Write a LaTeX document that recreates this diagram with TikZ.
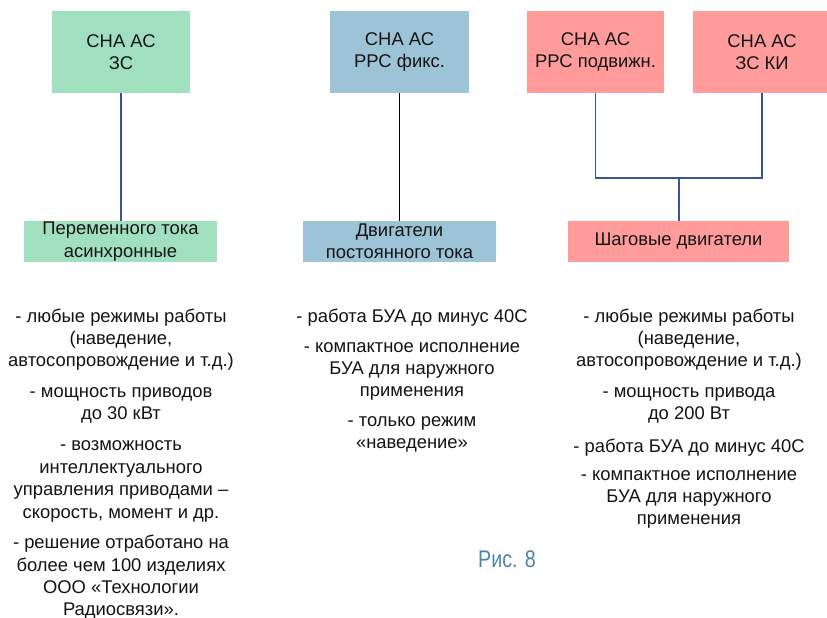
\documentclass[tikz,border=0pt]{standalone}
\usepackage{fontspec}
\setmainfont{Liberation Sans}
\usepackage{graphicx}
\definecolor{gfill}{RGB}{160,224,190}
\definecolor{bfill}{RGB}{157,195,215}
\definecolor{pfill}{RGB}{255,155,155}
\definecolor{lineblue}{RGB}{55,85,145}
\definecolor{captc}{RGB}{74,134,172}
\definecolor{txtc}{RGB}{20,20,20}
\newcommand{\txtfont}{\fontsize{18.4}{22.3}\selectfont}
\tikzset{
  box/.style={draw=none, inner sep=0pt, align=center, font=\txtfont, text=txtc},
  ln/.style={anchor=base, inner sep=0pt, font=\txtfont, text=txtc},
  conn/.style={draw=lineblue, line width=1.4pt},
  connk/.style={draw=black, line width=1.4pt}
}
\begin{document}
\begin{tikzpicture}[x=1pt,y=-1pt]
\useasboundingbox (0,0) rectangle (827,618);
\fill[white] (0,0) rectangle (827,618);
% top boxes
\node[box, fill=gfill, minimum width=138pt, minimum height=82pt] (b1) at (121,52) {СНА АС\\ЗС};
\node[box, fill=bfill, minimum width=139pt, minimum height=82pt] (b2) at (399.5,52) {СНА АС\\РРС фикс.};
\node[box, fill=pfill, minimum width=137pt, minimum height=82pt] (b3) at (595.5,52) {СНА АС\\РРС подвижн.};
\node[box, fill=pfill, minimum width=138pt, minimum height=82pt] (b4) at (762,52) {СНА АС\\ЗС КИ};
% bottom boxes
\node[box, fill=gfill, minimum width=193pt, minimum height=41pt] (b5) at (120.5,241.5) {Переменного тока\\асинхронные};
\node[box, fill=bfill, minimum width=193pt, minimum height=41pt] (b6) at (399.5,241.5) {Двигатели\\постоянного тока};
\node[box, fill=pfill, minimum width=221pt, minimum height=41pt] (b7) at (678.5,241.5) {Шаговые двигатели};
% connectors
\coordinate (j) at (679,178);
\draw[conn] (b1.south) -- (b1.south |- b5.north);
\draw[connk] (b2.south) -- (b2.south |- b6.north);
\draw[conn] (b3.south) |- (j);
\draw[conn] (b4.south) |- (j);
\draw[conn] (j) -- (j |- b7.north);
% column 1
\node[ln] (a1) at (121,322) {- любые режимы работы};
\node[ln] (a2) at (121,344) {(наведение,};
\node[ln] (a3) at (121,366) {автосопровождение и т.д.)};
\node[ln] (a4) at (121,397) {- мощность приводов};
\node[ln] (a5) at (121,419) {до 30 кВт};
\node[ln] (a6) at (121,450) {- возможность};
\node[ln] (a7) at (121,473) {интеллектуального};
\node[ln] (a8) at (121,495) {управления приводами –};
\node[ln] (a9) at (121,518) {скорость, момент и др.};
\node[ln] (a10) at (121,548) {- решение отработано на};
\node[ln] (a11) at (121,571) {более чем 100 изделиях};
\node[ln] (a12) at (121,593) {ООО «Технологии};
\node[ln] (a13) at (121,615) {Радиосвязи».};
% column 2
\node[ln] (c1) at (412,322) {- работа БУА до минус 40С};
\node[ln] (c2) at (412,352) {- компактное исполнение};
\node[ln] (c3) at (412,374) {БУА для наружного};
\node[ln] (c4) at (412,396) {применения};
\node[ln] (c5) at (412,426) {- только режим};
\node[ln] (c6) at (412,448) {«наведение»};
% column 3
\node[ln] (d1) at (689,322) {- любые режимы работы};
\node[ln] (d2) at (689,344) {(наведение,};
\node[ln] (d3) at (689,366) {автосопровождение и т.д.)};
\node[ln] (d4) at (689,397) {- мощность привода};
\node[ln] (d5) at (689,419) {до 200 Вт};
\node[ln] (d6) at (689,452) {- работа БУА до минус 40С};
\node[ln] (d7) at (689,480) {- компактное исполнение};
\node[ln] (d8) at (689,502) {БУА для наружного};
\node[ln] (d9) at (689,524) {применения};
% caption
\node[anchor=base, inner sep=0pt, text=captc, font=\fontsize{24}{28}\selectfont] (cap) at (507,567) {\scalebox{0.82}[1]{Рис. 8}};
\end{tikzpicture}
\end{document}
